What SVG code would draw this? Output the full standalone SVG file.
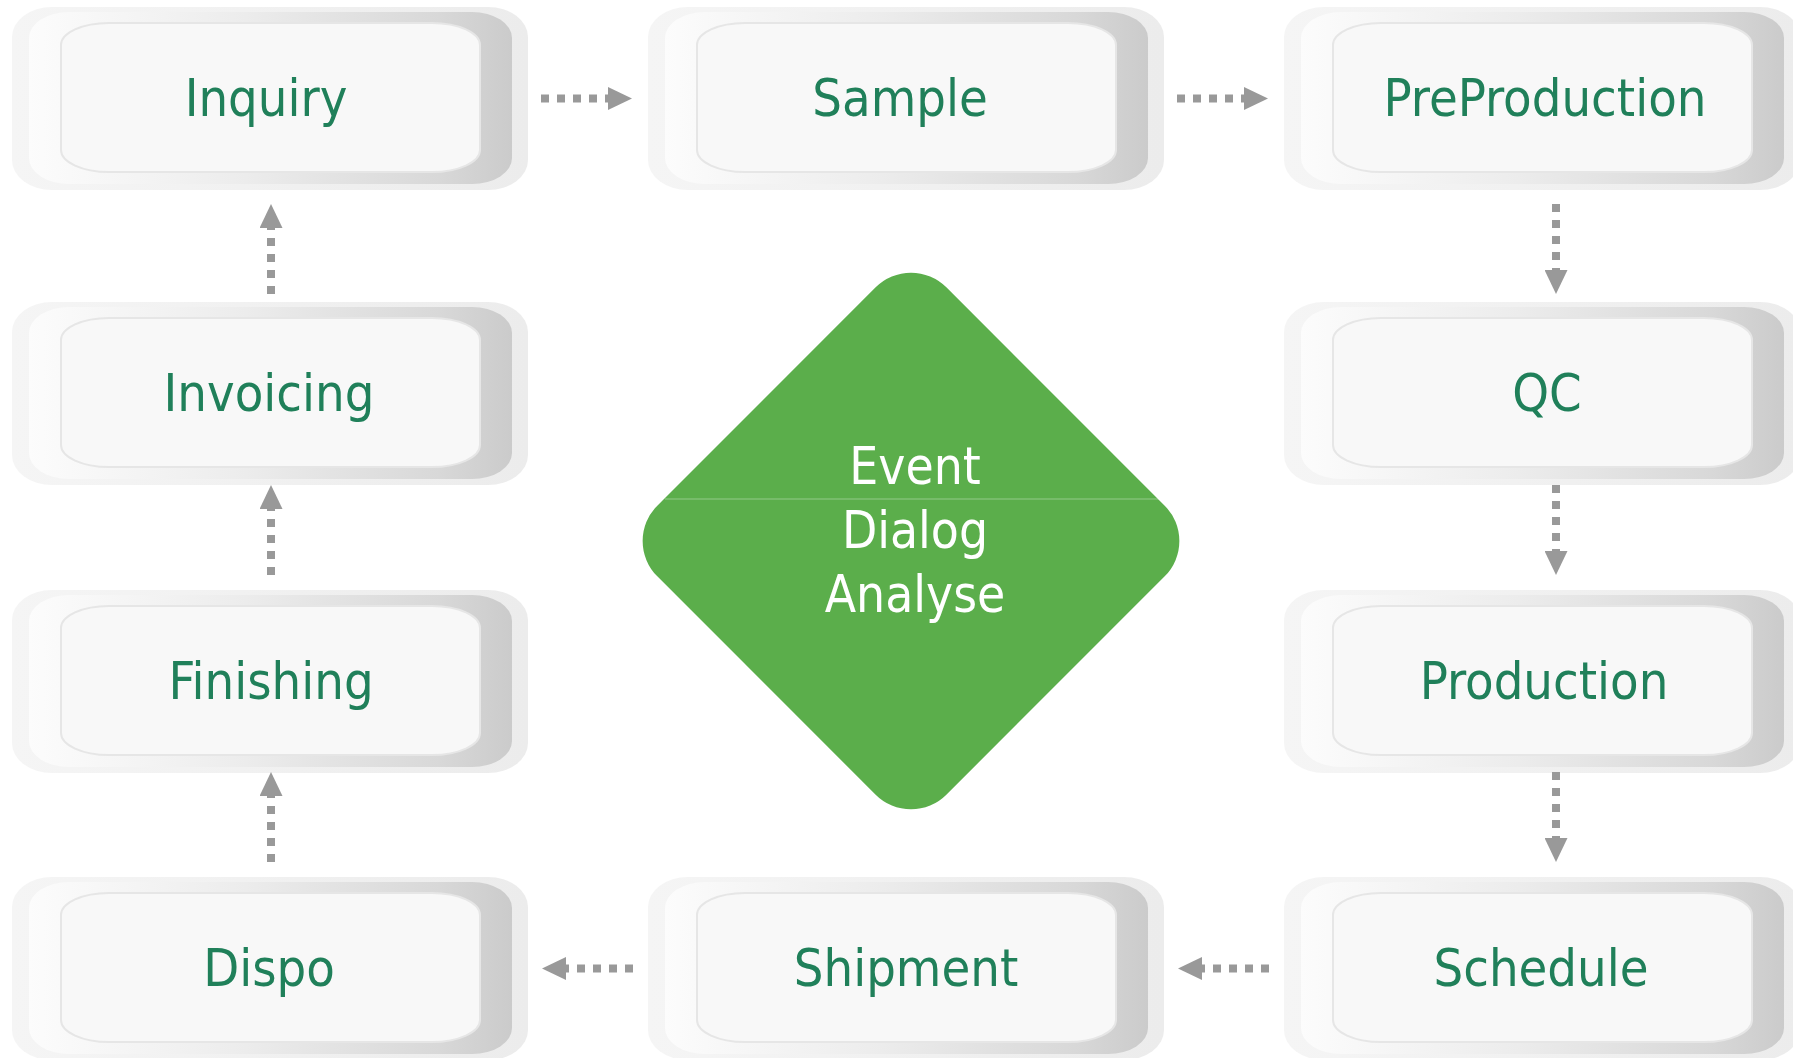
<svg xmlns="http://www.w3.org/2000/svg" xmlns:xlink="http://www.w3.org/1999/xlink" width="1793" height="1058" viewBox="0 0 1793 1058">
<style>
.lbl{font-family:"DejaVu Sans Condensed","DejaVu Sans",sans-serif;font-stretch:condensed;font-size:52px;fill:#20805a;text-anchor:middle}
.dlbl{font-family:"DejaVu Sans Condensed","DejaVu Sans",sans-serif;font-stretch:condensed;font-size:51px;fill:#ffffff;text-anchor:middle}
.conn{stroke:#999999;stroke-width:8;stroke-dasharray:8 8;fill:none;marker-end:url(#ah)}
</style>
<defs>
<linearGradient id="gOuter" x1="0" y1="0" x2="1" y2="0">
<stop offset="0" stop-color="#f5f5f5"/>
<stop offset="1" stop-color="#ececec"/>
</linearGradient>
<linearGradient id="gMid" x1="0" y1="0" x2="1" y2="0">
<stop offset="0" stop-color="#fcfcfc"/>
<stop offset="0.45" stop-color="#ececec"/>
<stop offset="0.85" stop-color="#d8d8d8"/>
<stop offset="1" stop-color="#cbcbcb"/>
</linearGradient>
<marker id="ah" markerUnits="userSpaceOnUse" markerWidth="24" markerHeight="23" viewBox="0 0 24 23" refX="0" refY="11.5" orient="auto">
<path d="M0,0 L24,11.5 L0,23 z" fill="#999999"/>
</marker>
<g id="nodebg">
<rect x="0" y="0" width="516" height="183" rx="40" ry="30" fill="url(#gOuter)"/>
<rect x="17" y="5" width="483" height="172" rx="40" ry="26" fill="url(#gMid)"/>
<rect x="49" y="16" width="419" height="149" rx="48" ry="22" fill="#f8f8f8" stroke="#e6e6e6" stroke-width="2"/>
</g>
</defs>
<rect width="1793" height="1058" fill="#ffffff"/>

<g id="node-inquiry"><use xlink:href="#nodebg" x="12" y="7"/><text class="lbl" x="266" y="116">Inquiry</text></g>
<g id="node-sample"><use xlink:href="#nodebg" x="648" y="7"/><text class="lbl" x="900" y="116">Sample</text></g>
<g id="node-preproduction"><use xlink:href="#nodebg" x="1284" y="7"/><text class="lbl" x="1545" y="116">PreProduction</text></g>
<g id="node-invoicing"><use xlink:href="#nodebg" x="12" y="302"/><text class="lbl" x="269" y="411">Invoicing</text></g>
<g id="node-qc"><use xlink:href="#nodebg" x="1284" y="302"/><text class="lbl" x="1547" y="411">QC</text></g>
<g id="node-finishing"><use xlink:href="#nodebg" x="12" y="590"/><text class="lbl" x="271" y="699">Finishing</text></g>
<g id="node-production"><use xlink:href="#nodebg" x="1284" y="590"/><text class="lbl" x="1544" y="699">Production</text></g>
<g id="node-dispo"><use xlink:href="#nodebg" x="12" y="877"/><text class="lbl" x="269" y="986">Dispo</text></g>
<g id="node-shipment"><use xlink:href="#nodebg" x="648" y="877"/><text class="lbl" x="906" y="986">Shipment</text></g>
<g id="node-schedule"><use xlink:href="#nodebg" x="1284" y="877"/><text class="lbl" x="1541" y="986">Schedule</text></g>

<g id="node-center">
<rect x="-204.4" y="-204.4" width="408.8" height="408.8" rx="50" ry="50" fill="#5bae4b" transform="translate(911,541) rotate(45)"/>
<line x1="665" y1="499" x2="1159" y2="499" stroke="#ffffff" stroke-opacity="0.35" stroke-width="1"/>
<text class="dlbl" x="915" y="484">Event</text>
<text class="dlbl" x="915" y="548">Dialog</text>
<text class="dlbl" x="915" y="612">Analyse</text>
</g>

<g id="connectors">
<line class="conn" x1="541" y1="98.5" x2="608" y2="98.5"/>
<line class="conn" x1="1177" y1="98.5" x2="1244" y2="98.5"/>
<line class="conn" x1="1556" y1="204" x2="1556" y2="270"/>
<line class="conn" x1="1556" y1="485" x2="1556" y2="551"/>
<line class="conn" x1="1556" y1="772" x2="1556" y2="838"/>
<line class="conn" x1="1269" y1="968.5" x2="1202" y2="968.5"/>
<line class="conn" x1="633" y1="968.5" x2="566" y2="968.5"/>
<line class="conn" x1="271" y1="862" x2="271" y2="796"/>
<line class="conn" x1="271" y1="575" x2="271" y2="509"/>
<line class="conn" x1="271" y1="294" x2="271" y2="228"/>
</g>
</svg>
